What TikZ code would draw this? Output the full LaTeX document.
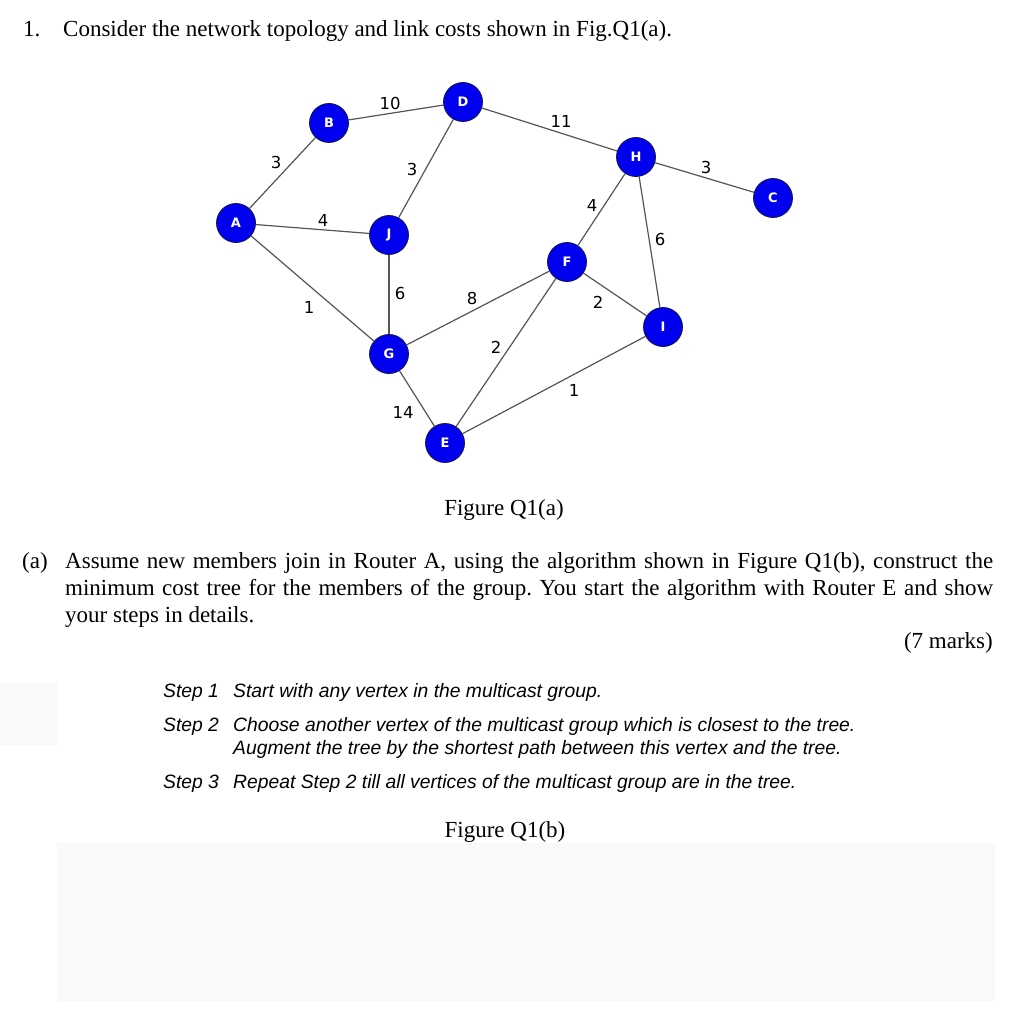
\documentclass[tikz,border=0pt]{standalone}
\usepackage{fontspec}
\setmainfont{Liberation Serif}
\newfontfamily\stepfont{Liberation Sans}
\newfontfamily\lblfont{DejaVu Sans}
\frenchspacing
\definecolor{nodeblue}{RGB}{0,0,238}
\definecolor{nodeedge}{RGB}{20,20,80}
\definecolor{edgegray}{RGB}{85,85,85}
\definecolor{faint}{RGB}{249,249,249}
\tikzset{
  router/.style={circle, minimum size=39pt, inner sep=0pt, fill=nodeblue, draw=nodeedge, line width=0.8pt,
    text=white, font=\lblfont\bfseries\fontsize{13}{13}\selectfont},
  link/.style={draw=edgegray, line width=1.2pt},
  cost/.style={inner sep=0pt, text=black, font=\lblfont\fontsize{16.5}{16.5}\selectfont},
  body/.style={anchor=base west, inner sep=0pt, font=\fontsize{23}{27}\selectfont},
  steptxt/.style={anchor=base west, inner sep=0pt, font=\stepfont\itshape\fontsize{19.3}{22}\selectfont},
}
\begin{document}
\begin{tikzpicture}[x=1pt,y=-1pt]
\useasboundingbox (0,0) rectangle (1018,1024);
\fill[white] (0,0) rectangle (1018,1024);
% faint background panels
\fill[faint] (57,843) rectangle (995,1001);
\fill[faint] (0,683) rectangle (57,745);

% title
\node[body] (num) at (23,37) {1.};
\node[body] (title) at (63,37) {Consider the network topology and link costs shown in Fig.Q1(a).};

% routers
\node[router] (A) at (236,223) {A};
\node[router] (B) at (329,123) {B};
\node[router] (D) at (463,102) {D};
\node[router] (H) at (636,157) {H};
\node[router] (C) at (773,198) {C};
\node[router] (J) at (389,235) {J};
\node[router] (F) at (567,262) {F};
\node[router] (I) at (663,327) {I};
\node[router] (G) at (389,354) {G};
\node[router] (E) at (445,443) {E};

% links
\draw[link] (A) -- (B);
\draw[link] (A) -- (J);
\draw[link] (A) -- (G);
\draw[link] (B) -- (D);
\draw[link] (D) -- (J);
\draw[link] (D) -- (H);
\draw[link] (H) -- (C);
\draw[link] (H) -- (F);
\draw[link] (H) -- (I);
\draw[link] (J) -- (G);
\draw[link] (G) -- (F);
\draw[link] (G) -- (E);
\draw[link] (F) -- (E);
\draw[link] (F) -- (I);
\draw[link] (E) -- (I);

% costs
\node[cost] (cBD) at (390,103) {10};
\node[cost] (cAB) at (276,162) {3};
\node[cost] (cDJ) at (412,169) {3};
\node[cost] (cAJ) at (323,220) {4};
\node[cost] (cDH) at (561,121) {11};
\node[cost] (cHC) at (706,167) {3};
\node[cost] (cHF) at (592,205) {4};
\node[cost] (cHI) at (660,239) {6};
\node[cost] (cJG) at (400,293) {6};
\node[cost] (cAG) at (309,307) {1};
\node[cost] (cGF) at (472,298) {8};
\node[cost] (cFI) at (598,302) {2};
\node[cost] (cFE) at (496,347) {2};
\node[cost] (cEI) at (574,390) {1};
\node[cost] (cGE) at (403,412) {14};

\node[body, anchor=base] (figa) at (504,515) {Figure Q1(a)};

% question
\node[body] (qa) at (22,568) {(a)};
\node[body] (q1) at (65,568) {\makebox[928pt][s]{Assume new members join in Router A, using the algorithm shown in Figure Q1(b), construct the}};
\node[body] (q2) at (65,595) {\makebox[928pt][s]{minimum cost tree for the members of the group. You start the algorithm with Router E and show}};
\node[body] (q3) at (65,622) {your steps in details.};
\node[body, anchor=base east] (marks) at (993,648) {(7 marks)};

% steps
\node[steptxt] (s1) at (163,697) {Step 1};
\node[steptxt] (s1t) at (233,697) {Start with any vertex in the multicast group.};
\node[steptxt] (s2) at (163,731) {Step 2};
\node[steptxt] (s2t) at (233,731) {Choose another vertex of the multicast group which is closest to the tree.};
\node[steptxt] (s2u) at (233,754) {Augment the tree by the shortest path between this vertex and the tree.};
\node[steptxt] (s3) at (163,788) {Step 3};
\node[steptxt] (s3t) at (233,788) {Repeat Step 2 till all vertices of the multicast group are in the tree.};

\node[body, anchor=base] (figb) at (505,837) {Figure Q1(b)};
\end{tikzpicture}
\end{document}
